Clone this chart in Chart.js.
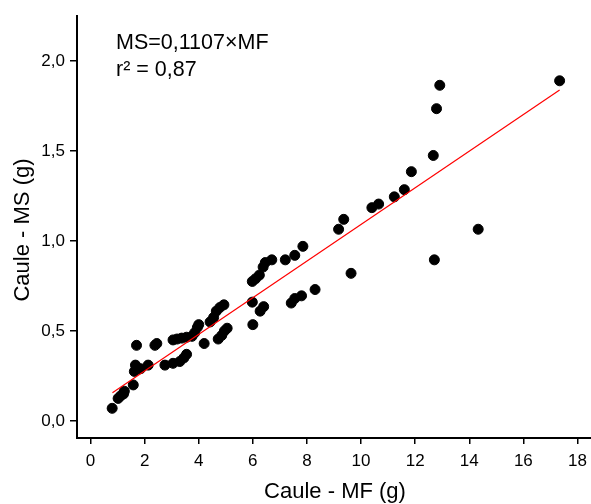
<!DOCTYPE html>
<html>
<head>
<meta charset="utf-8">
<script src="https://cdn.jsdelivr.net/npm/chart.js@4.4.0/dist/chart.umd.min.js"></script>
<style>
html, body { margin: 0; padding: 0; background: #fff; }
#wrap { width: 591px; height: 504px; position: relative; }
</style>
</head>
<body>
<div id="wrap"><canvas id="scatterChart"></canvas></div>
<script>
// fresh mass (MF) vs dry mass (MS) of stems
var mf = [0.80, 1.02, 1.12, 1.22, 1.25, 1.58, 1.62, 1.66, 1.70, 1.85,
          2.13, 2.38, 2.45, 2.75, 3.05, 3.05, 3.20, 3.30, 3.37, 3.45,
          3.55, 3.55, 3.75, 3.85, 3.95, 4.00, 4.20, 4.42, 4.55, 4.65,
          4.78, 4.93, 4.72, 4.85, 4.95, 5.05, 5.98, 6.10, 6.24, 6.38,
          6.46, 6.70, 7.20, 7.55, 7.85, 5.98, 6.00, 6.27, 6.40, 7.42,
          7.55, 7.80, 8.30, 9.17, 9.36, 9.63, 10.40, 10.65, 11.23, 11.60,
          11.86, 12.67, 12.71, 12.79, 12.91, 14.33, 17.34]
var ms = [0.070, 0.125, 0.140, 0.150, 0.165, 0.200, 0.275, 0.310, 0.420, 0.290,
          0.310, 0.420, 0.430, 0.310, 0.320, 0.450, 0.455, 0.330, 0.460, 0.350,
          0.370, 0.465, 0.470, 0.490, 0.520, 0.535, 0.430, 0.550, 0.575, 0.610,
          0.630, 0.645, 0.455, 0.475, 0.500, 0.515, 0.775, 0.790, 0.810, 0.855,
          0.880, 0.895, 0.895, 0.920, 0.970, 0.660, 0.535, 0.610, 0.635, 0.655,
          0.680, 0.695, 0.730, 1.065, 1.120, 0.820, 1.185, 1.205, 1.245, 1.285,
          1.385, 1.475, 0.895, 1.735, 1.865, 1.065, 1.890]

// regression line ends
var fitMf = [0.81, 17.34]
var fitMs = [0.157, 1.839]

var equationText = 'MS=0,1107×MF'
var r2Text = 'r² = 0,87'
var xTitle = 'Caule - MF (g)'
var yTitle = 'Caule - MS (g)'

var fontFamily = '"Liberation Sans", Arial, Helvetica, sans-serif'

function toPoints(xs, ys) {
    var out = []
    for (var i = 0; i < xs.length; i++) {
        out.push({ x: xs[i], y: ys[i] })
    }
    return out
}

function commaLabel(digits) {
    return function (value) {
        return Number(value).toFixed(digits).replace('.', ',')
    }
}

function stretchedText(c, text, x, y, rotate) {
    c.save()
    c.translate(x, y)
    if (rotate) c.rotate(-Math.PI / 2)
    c.scale(1, 1.04)
    c.fillText(text, 0, 0)
    c.restore()
}

// text drawn by hand: equation and the two axis titles
var labelsPlugin = {
    id: 'labels',
    afterDraw: function (chart) {
        var c = chart.ctx
        c.save()
        c.fillStyle = '#000'
        c.textBaseline = 'alphabetic'
        c.font = '21.5px ' + fontFamily
        c.textAlign = 'left'
        stretchedText(c, equationText, 116, 49, false)
        stretchedText(c, r2Text, 116, 76, false)

        c.font = '22px ' + fontFamily
        c.textAlign = 'center'
        stretchedText(c, xTitle, 335, 498, false)
        stretchedText(c, yTitle, 29, 230, true)
        c.restore()
    }
}

var ctx = document.getElementById('scatterChart')
var chart = new Chart(ctx, {
    type: 'scatter',
    data: {
        datasets: [{
            label: 'ajuste',
            data: toPoints(fitMf, fitMs),
            showLine: true,
            borderColor: '#ff0000',
            borderWidth: 1.2,
            pointRadius: 0,
            fill: false
        }, {
            label: 'Caule',
            data: toPoints(mf, ms),
            backgroundColor: '#000',
            borderColor: '#000',
            borderWidth: 1,
            pointRadius: 5
        }]
    },
    options: {
        responsive: true,
        maintainAspectRatio: false,
        animation: false,
        layout: { autoPadding: false, padding: { top: 16, right: 0, left: 0, bottom: 0 } },
        plugins: {
            legend: { display: false },
            tooltip: { enabled: false }
        },
        scales: {
            x: {
                type: 'linear',
                min: -0.5,
                max: 18.5,
                afterFit: function (scale) {
                    scale.height = 66
                    scale.paddingLeft = 0
                    scale.paddingRight = 0
                },
                border: { display: true, color: '#000', width: 2 },
                grid: { drawOnChartArea: false, drawTicks: true, tickLength: 6, color: '#000', lineWidth: 1.5 },
                ticks: {
                    stepSize: 2,
                    includeBounds: false,
                    color: '#000',
                    padding: 7,
                    maxRotation: 0,
                    font: { family: fontFamily, size: 17 },
                    callback: commaLabel(0)
                }
            },
            y: {
                type: 'linear',
                min: -0.095,
                max: 2.25,
                afterFit: function (scale) {
                    scale.width = 77
                    scale.paddingTop = 0
                    scale.paddingBottom = 0
                },
                border: { display: true, color: '#000', width: 2 },
                grid: { drawOnChartArea: false, drawTicks: true, tickLength: 7, color: '#000', lineWidth: 1.5 },
                ticks: {
                    stepSize: 0.5,
                    includeBounds: false,
                    color: '#000',
                    padding: 5,
                    font: { family: fontFamily, size: 17 },
                    callback: commaLabel(1)
                }
            }
        }
    },
    plugins: [labelsPlugin]
})
</script>
</body>
</html>
